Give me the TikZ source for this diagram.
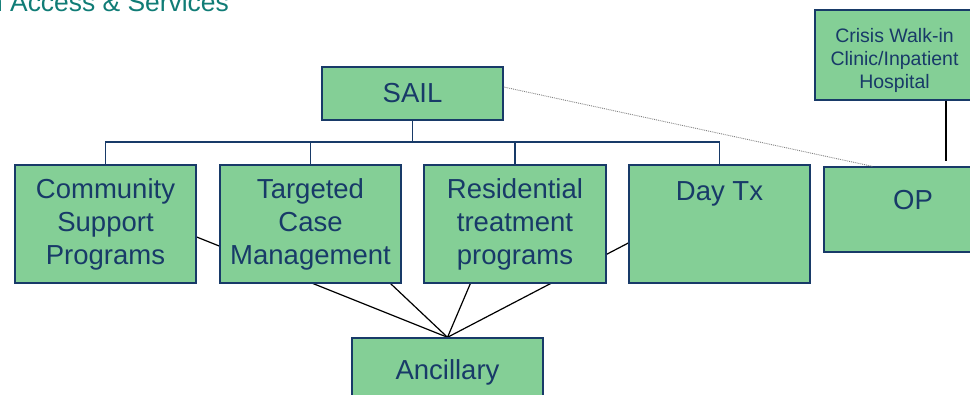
\documentclass[tikz,border=0pt]{standalone}
\usepackage{fontspec}
\setmainfont{Liberation Sans}
\usetikzlibrary{backgrounds}
\definecolor{boxgreen}{RGB}{132,207,150}
\definecolor{navy}{RGB}{24,58,104}
\definecolor{titleteal}{RGB}{16,124,118}

\begin{document}
\begin{tikzpicture}[x=1pt, y=-1pt,
    box/.style={draw=navy, fill=boxgreen, line width=1.4pt, text=navy, align=center,
        font={\fontsize{27.5}{33}\selectfont}, inner sep=0pt},
    smalltext/.style={text=navy, align=center, font={\fontsize{19.5}{23}\selectfont}, inner sep=0pt},
    bus/.style={draw=navy, line width=1.4pt},
    link/.style={draw=black, line width=1.2pt},
    tie/.style={draw=black, line width=1.2pt},
    hint/.style={draw=gray, densely dotted, line width=0.9pt}]
    % Picture frame
    \useasboundingbox (0,0) rectangle (970,394);
    \clip (0,0) rectangle (970,394);

    % Title
    \node[anchor=base west, text=titleteal, font={\fontsize{26.4}{30}\selectfont}, inner sep=0pt]
        (title) at (-12,11.5) {n Access \& Services};

    % Boxes
    \node[box, minimum width=181, minimum height=53] (sail) at (412.5,93.5) {SAIL};
    \node[box, minimum width=181, minimum height=118] (csp) at (105.5,224) {Community\\Support\\Programs};
    \node[box, minimum width=181, minimum height=118] (tcm) at (310.5,224) {Targeted\\Case\\Management};
    \node[box, minimum width=182, minimum height=118] (rtp) at (515,224) {Residential\\treatment\\programs};
    \node[box, minimum width=181, minimum height=118] (day) at (719.5,224) {Day Tx\\\mbox{}\\\mbox{}};
    \node[box, minimum width=178, minimum height=85, text height=19.7pt, text depth=19.3pt] (op) at (913,209.5) {OP};
    \node[box, minimum width=159, minimum height=90] (crisis) at (894.5,55) {};
    \node[smalltext] (crisistext) at ([yshift=-5pt]crisis.center) {Crisis Walk-in\\Clinic/Inpatient\\Hospital};
    \node[box, minimum width=191, minimum height=64, text height=24pt, text depth=5.8pt] (anc) at (447.5,370) {Ancillary};

    % Tree below SAIL
    \coordinate (busy) at (0,142);
    \draw[bus] (sail.south) -- (sail.south |- busy);
    \draw[bus] (csp.north) -- (csp.north |- busy) -| (day.north);
    \draw[bus] (tcm.north) -- (tcm.north |- busy);
    \draw[bus] (rtp.north) -- (rtp.north |- busy);

    % Crisis to OP
    \draw[tie, shorten >=5pt] ([xshift=51.5pt]crisis.south) -- ([xshift=51.5pt]crisis.south |- op.north);

    % SAIL to OP
    \draw[hint] ([yshift=6.5pt]sail.east) -- ([xshift=49pt]op.north west);

    % Ancillary links, behind the boxes
    \begin{scope}[on background layer]
        \draw[link] (anc.north) -- ([yshift=-13pt]csp.east);
        \draw[link] (anc.north) -- ([xshift=-11pt]tcm.south east);
        \draw[link] (anc.north) -- ([xshift=47pt]rtp.south west);
        \draw[link] (anc.north) -- ([yshift=-19pt]day.west);
    \end{scope}
\end{tikzpicture}
\end{document}
